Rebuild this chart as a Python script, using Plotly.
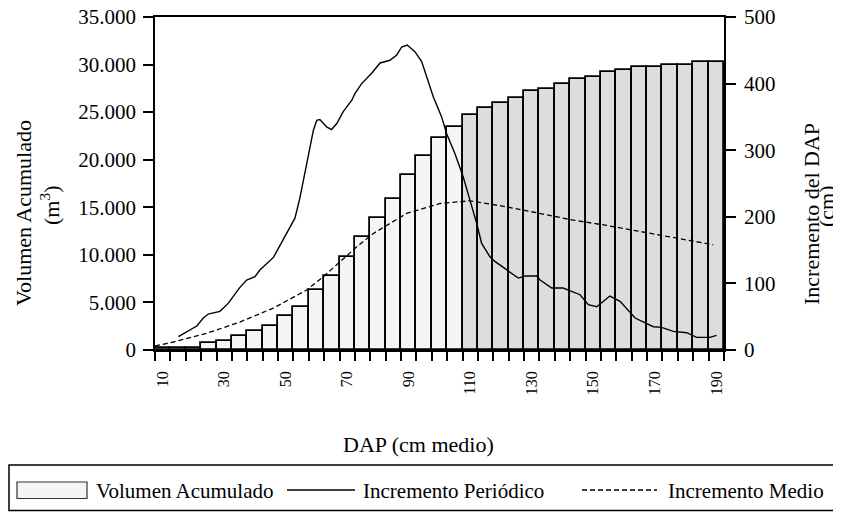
import plotly.graph_objects as go

# ---- data ----
dap = [10, 15, 20, 25, 30, 35, 40, 45, 50, 55, 60, 65, 70, 75, 80, 85, 90, 95, 100,
       105, 110, 115, 120, 125, 130, 135, 140, 145, 150, 155, 160, 165, 170, 175,
       180, 185, 190]
volumen = [180, 200, 200, 700, 980, 1500, 2000, 2490, 3540, 4520, 6270, 7810, 9810,
           11840, 13840, 15870, 18390, 20420, 22250, 23470, 24700, 25470, 26000, 26450,
           27220, 27430, 27960, 28450, 28730, 29220, 29460, 29780, 29780, 29990, 29990,
           30240, 30240]

peri_x = [15.1, 21.1, 23.2, 24.8, 28.6, 31.3, 35.1, 37.3, 40.0, 41.6, 46.0, 49.2, 53.0,
          54.6, 55.7, 57.3, 59.0, 60.1, 61.1, 63.3, 64.9, 66.6, 68.7, 71.5, 72.5, 74.7,
          78.0, 80.7, 83.9, 86.1, 87.7, 89.5, 92.0, 94.2, 95.8, 98.0, 100.7, 102.3, 105.0,
          107.7, 109.9, 112.1, 113.7, 116.4, 118.0, 121.8, 125.6, 127.8, 131.6, 132.7,
          136.5, 140.2, 145.7, 148.4, 151.1, 155.4, 158.7, 163.6, 169.5, 172.2, 176.0,
          180.4, 183.6, 187.9, 190.1]
peri_y = [20, 36, 48, 54, 58, 70, 94, 105, 110, 120, 139, 165, 198,
          228, 255, 290, 330, 345, 346, 335, 331, 340, 358, 375, 385, 400,
          416, 431, 435, 443, 455, 458, 448, 433, 410, 380, 350, 325, 295,
          260, 225, 190, 160, 140, 133, 120, 108, 111, 111, 105,
          93, 93, 83, 68, 65, 81, 73, 48, 35, 34, 28,
          26, 19, 19, 22]

medio_x = [7.5, 13.5, 24.3, 35.1, 46.0, 56.8, 62.2, 67.6, 73.1, 78.5, 89.3, 100.2,
           109.9, 121.8, 132.7, 143.5, 154.4, 165.2, 176.0, 189.0]
medio_y = [6, 12, 25, 42, 63, 90, 110, 133, 155, 175, 205, 220,
           224, 215, 205, 195, 187, 178, 168, 158]

x_ticks = [10, 30, 50, 70, 90, 110, 130, 150, 170, 190]
y_left_ticks = [0, 5000, 10000, 15000, 20000, 25000, 30000, 35000]
y_right_ticks = [0, 100, 200, 300, 400, 500]

LIGHT = "#f5f5f5"
GRAY = "#dddddd"
FONT = "Liberation Serif"

bar_colors = [LIGHT if d < 110 else GRAY for d in dap]

# plot-area pixel geometry on the page (page has an 8px body margin)
L, R, T, B = 155, 724, 17, 350
OFF = 8
W, H = 841 - OFF, 512 - OFF


def px(xp):
    return (xp - L) / (R - L)


def py(yp):
    return (B - yp) / (B - T)


fig = go.Figure()
fig.add_trace(go.Bar(x=dap, y=volumen, width=5, marker=dict(color=bar_colors,
              line=dict(color="black", width=1.8)), name="Volumen Acumulado",
              xaxis="x", yaxis="y", showlegend=False))
fig.add_trace(go.Scatter(x=peri_x, y=peri_y, mode="lines", line=dict(color="black", width=1.4),
                         name="Incremento Periódico", xaxis="x", yaxis="y2", showlegend=False))
fig.add_trace(go.Scatter(x=medio_x, y=medio_y, mode="lines",
                         line=dict(color="black", width=1.3, dash="5px,3px"),
                         name="Incremento Medio", xaxis="x", yaxis="y2", showlegend=False))

tickfont_y = dict(family=FONT, size=21, color="black")
tickfont_x = dict(family=FONT, size=16, color="black")

fig.update_layout(
    width=W, height=H,
    margin=dict(l=L - OFF, r=W - (R - OFF), t=T - OFF, b=H - (B - OFF), autoexpand=False),
    paper_bgcolor="white", plot_bgcolor="white",
    separators=",.",
    showlegend=False,
    bargap=0,
    xaxis=dict(range=[7.5, 192.5], tickmode="array", tickvals=x_ticks,
               ticktext=[str(v) for v in x_ticks], tickangle=-90, tickfont=tickfont_x,
               ticks="", ticklabelstandoff=13, automargin=False,
               ticklabeloverflow="allow",
               showgrid=False, zeroline=False, showline=True, linecolor="black",
               linewidth=1.8, mirror=True,
               minor=dict(ticks="outside", tick0=7.5, dtick=5, ticklen=9,
                          tickcolor="black", tickwidth=1.5, showgrid=False)),
    xaxis2=dict(range=[7.5, 192.5], overlaying="x", anchor="y", side="bottom",
                showticklabels=False, ticks="", showgrid=False, zeroline=False,
                showline=False, automargin=False,
                minor=dict(ticks="inside", tick0=7.5, dtick=5, ticklen=10,
                           tickcolor="black", tickwidth=1.5, showgrid=False)),
    yaxis=dict(range=[0, 35000], tickmode="array", tickvals=y_left_ticks,
               tickformat=",d", tickfont=tickfont_y, ticks="outside", ticklen=10,
               ticklabelstandoff=3, automargin=False, ticklabeloverflow="allow",
               tickwidth=1.5, tickcolor="black", showgrid=False, zeroline=False,
               showline=True, linecolor="black", linewidth=1.8),
    yaxis2=dict(range=[0, 500], tickmode="array", tickvals=y_right_ticks,
                overlaying="y", side="right", anchor="x", tickfont=tickfont_y,
                ticks="outside", ticklen=10, tickwidth=1.5, tickcolor="black",
                ticklabelstandoff=4, automargin=False, ticklabeloverflow="allow",
                showgrid=False, zeroline=False, showline=True, linecolor="black",
                linewidth=1.8),
    yaxis3=dict(range=[0, 35000], tickmode="array", tickvals=y_left_ticks,
                overlaying="y", side="left", anchor="x", showticklabels=False,
                ticks="inside", ticklen=7, tickwidth=1.5, tickcolor="black",
                automargin=False,
                showgrid=False, zeroline=False, showline=False),
)

title_font = dict(family=FONT, size=22, color="black")
legend_font = dict(family=FONT, size=21, color="black")


def note(text, xp, yp, font, xanchor="center", angle=0):
    return dict(text=text, x=px(xp), y=py(yp), xref="paper", yref="paper",
                textangle=angle, showarrow=False, font=font,
                xanchor=xanchor, yanchor="middle")


annotations = [
    note("Volumen Acumulado", 23, 213, title_font, angle=-90),
    note("(m<sup>3</sup>)", 50, 206, title_font, angle=-90),
    note("Incremento del DAP", 811, 214, title_font, angle=-90),
    note("(cm)", 826, 206, title_font, angle=-90),
    note("DAP (cm medio)", 418, 444, title_font),
    note("Volumen Acumulado", 94, 491, legend_font, xanchor="left"),
    note("Incremento Periódico", 361, 491, legend_font, xanchor="left"),
    note("Incremento Medio", 666, 491, legend_font, xanchor="left"),
]

shapes = [
    # legend frame
    dict(type="rect", xref="paper", yref="paper", x0=px(9), x1=px(838), y0=py(465),
         y1=py(510.5), line=dict(color="black", width=1.5), fillcolor="rgba(0,0,0,0)"),
    # legend swatch for bars
    dict(type="rect", xref="paper", yref="paper", x0=px(17), x1=px(87), y0=py(482),
         y1=py(498.5), line=dict(color="#333333", width=1.2), fillcolor=LIGHT),
    # legend solid line
    dict(type="line", xref="paper", yref="paper", x0=px(287), x1=px(355), y0=py(490),
         y1=py(490), line=dict(color="black", width=1.3)),
    # legend dashed line
    dict(type="line", xref="paper", yref="paper", x0=px(582), x1=px(657), y0=py(490),
         y1=py(490), line=dict(color="black", width=1.3, dash="5px,3px")),
]

fig.update_layout(annotations=annotations, shapes=shapes)

fig.write_html("out.html")
